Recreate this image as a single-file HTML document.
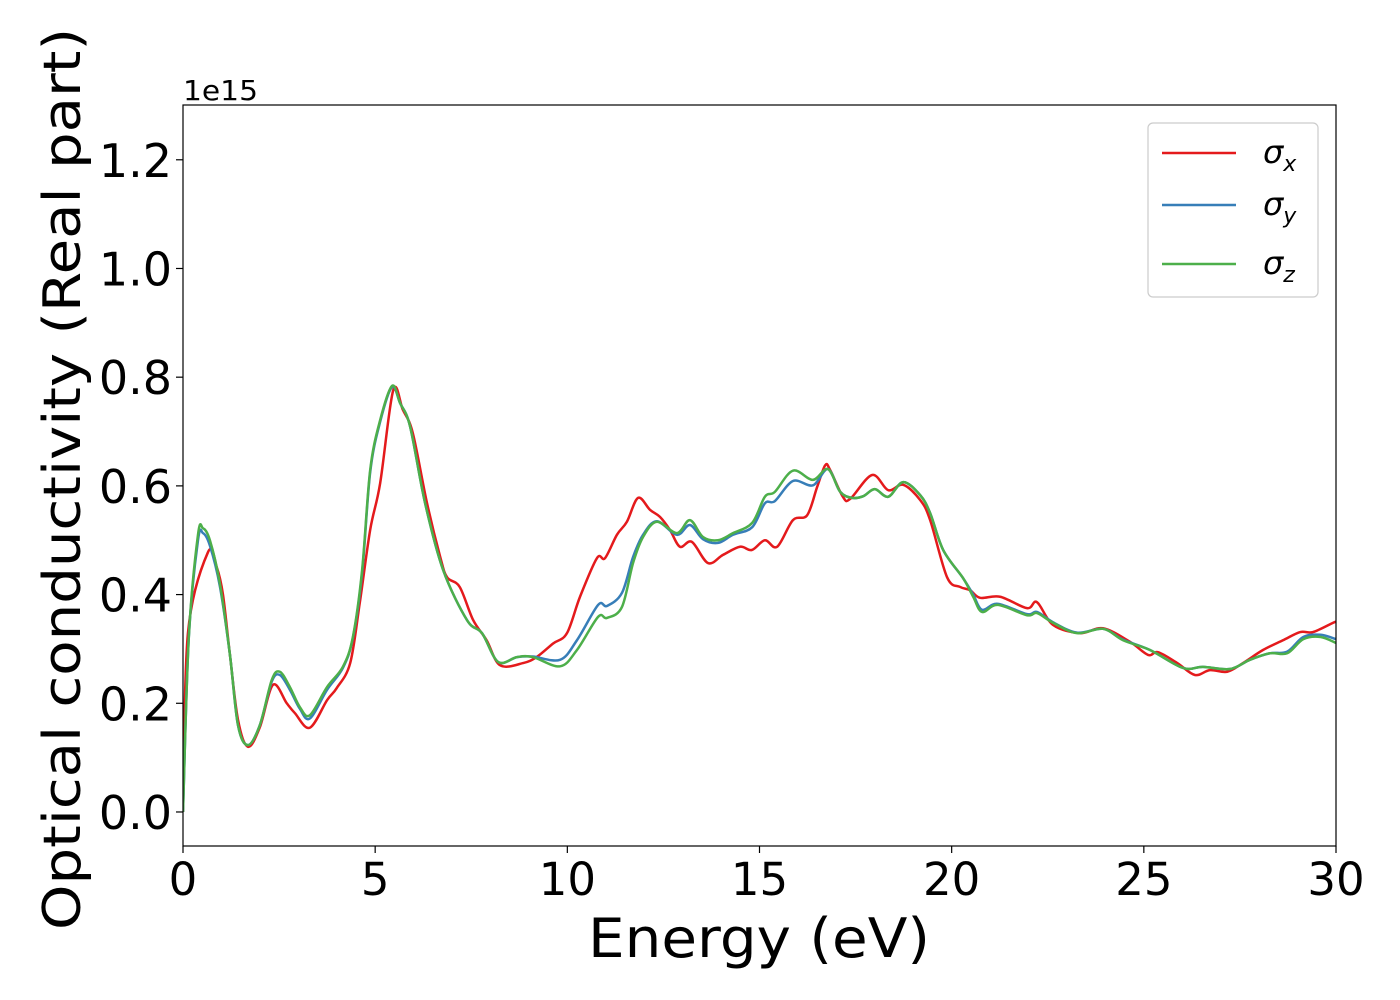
<!DOCTYPE html>
<html><head><meta charset="utf-8"><style>
html,body{margin:0;padding:0;background:#fff;}
svg{display:block;font-family:"DejaVu Sans","Liberation Sans",sans-serif;}
</style></head><body>
<svg id="chart" width="1400" height="1000" viewBox="0 0 1400 1000" xmlns="http://www.w3.org/2000/svg">
<rect x="0" y="0" width="1400" height="1000" fill="#fff"/>
<g id="plot"></g>
<g id="axes"></g>
<text x="183" y="100" font-size="28" textLength="75" lengthAdjust="spacingAndGlyphs">1e15</text>
<text x="759" y="957" font-size="54" text-anchor="middle" textLength="342" lengthAdjust="spacingAndGlyphs">Energy (eV)</text>
<text transform="translate(80,479) rotate(-90)" font-size="52" text-anchor="middle" textLength="902" lengthAdjust="spacingAndGlyphs">Optical conductivity (Real part)</text>
<g>
<rect x="1148" y="123" width="170" height="174" rx="5" fill="#fff" stroke="#ccc" stroke-width="1.2"/>
<line x1="1162" y1="153" x2="1236" y2="153" stroke="#e41a1c" stroke-width="2.5"/>
<text x="1263" y="163" font-size="32" font-style="italic">σ<tspan font-size="22" dy="8">x</tspan></text>
<line x1="1162" y1="205" x2="1236" y2="205" stroke="#377eb8" stroke-width="2.5"/>
<text x="1263" y="215" font-size="32" font-style="italic">σ<tspan font-size="22" dy="8">y</tspan></text>
<line x1="1162" y1="264" x2="1236" y2="264" stroke="#4daf4a" stroke-width="2.5"/>
<text x="1263" y="274" font-size="32" font-style="italic">σ<tspan font-size="22" dy="8">z</tspan></text>
</g>
</svg>
<script>
const xTicks=[0,5,10,15,20,25,30];
const yTicks=[0.0,0.2,0.4,0.6,0.8,1.0,1.2];
const xTickLabels=["0","5","10","15","20","25","30"];
const yTickLabels=["0.0","0.2","0.4","0.6","0.8","1.0","1.2"];
const eX=[0,0.13,0.65,0.88,1.04,1.22,1.43,1.69,2.0,2.34,2.7,2.91,3.3,3.75,4.0,4.35,4.6,4.87,5.13,5.47,5.72,5.98,6.35,6.69,6.87,7.2,7.55,7.9,8.25,8.85,9.2,9.63,9.99,10.33,10.77,10.98,11.29,11.55,11.84,12.15,12.41,12.67,12.93,13.24,13.66,14.05,14.49,14.8,15.14,15.46,15.87,16.24,16.5,16.71,16.84,17.17,17.36,17.93,18.35,18.74,19.18,19.44,19.88,20.22,20.48,20.74,21.26,21.96,22.22,22.64,23.34,23.94,24.64,25.11,25.37,25.87,26.33,26.72,27.17,27.58,28.1,28.62,29.07,29.4,29.92,30];
const sigmaX=[0,0.33,0.478,0.45,0.40,0.29,0.17,0.12,0.156,0.234,0.2,0.182,0.155,0.206,0.228,0.274,0.385,0.519,0.605,0.776,0.74,0.697,0.568,0.47,0.432,0.414,0.353,0.316,0.27,0.274,0.285,0.31,0.329,0.396,0.467,0.467,0.51,0.534,0.578,0.556,0.543,0.519,0.488,0.497,0.458,0.473,0.488,0.482,0.5,0.488,0.537,0.546,0.598,0.638,0.629,0.58,0.576,0.62,0.592,0.602,0.574,0.537,0.432,0.414,0.408,0.394,0.396,0.375,0.386,0.344,0.329,0.338,0.313,0.289,0.294,0.274,0.252,0.261,0.258,0.274,0.298,0.316,0.331,0.331,0.348,0.35];
const eYZ=[0,0.15,0.39,0.52,0.7,0.96,1.22,1.43,1.69,2.0,2.31,2.52,2.78,3.04,3.3,3.75,4.16,4.42,4.66,4.87,5.13,5.44,5.65,5.91,6.3,6.77,7.39,7.78,8.2,8.69,9.1,9.81,10.25,10.8,11.03,11.42,11.71,11.97,12.33,12.85,13.19,13.53,13.92,14.31,14.81,15.14,15.4,15.87,16.39,16.78,17.1,17.41,17.7,18.0,18.35,18.74,19.18,19.44,19.78,20.3,20.56,20.79,21.2,21.96,22.22,22.64,23.26,23.94,24.46,25.16,26.02,26.54,27.24,27.76,28.28,28.73,29.15,29.6,30];
const sigmaY=[0,0.32,0.5,0.513,0.49,0.415,0.29,0.16,0.123,0.16,0.24,0.252,0.225,0.19,0.172,0.225,0.265,0.32,0.44,0.625,0.718,0.782,0.752,0.709,0.568,0.445,0.353,0.329,0.276,0.285,0.286,0.28,0.316,0.381,0.379,0.403,0.469,0.51,0.535,0.51,0.528,0.502,0.495,0.51,0.524,0.568,0.572,0.609,0.601,0.631,0.589,0.578,0.581,0.594,0.58,0.607,0.583,0.55,0.482,0.43,0.4,0.372,0.383,0.364,0.368,0.349,0.33,0.337,0.317,0.298,0.265,0.267,0.263,0.28,0.292,0.295,0.322,0.326,0.318];
const sigmaZ=[0,0.32,0.51,0.522,0.5,0.42,0.29,0.16,0.123,0.16,0.243,0.258,0.23,0.193,0.178,0.23,0.267,0.322,0.445,0.629,0.721,0.784,0.752,0.709,0.568,0.445,0.353,0.329,0.276,0.285,0.285,0.268,0.298,0.359,0.357,0.377,0.458,0.506,0.534,0.513,0.537,0.506,0.5,0.513,0.532,0.58,0.589,0.628,0.611,0.631,0.589,0.578,0.581,0.594,0.58,0.607,0.583,0.55,0.482,0.43,0.396,0.368,0.381,0.362,0.366,0.348,0.329,0.337,0.316,0.298,0.265,0.267,0.263,0.28,0.292,0.292,0.318,0.322,0.311];

const L=183,R=1336,T=105,B=846;
const xMin=0,xMax=30,yMin=-0.0626,yMax=1.3008;
const sx=v=>L+(v-xMin)/(xMax-xMin)*(R-L);
const sy=v=>B-(v-yMin)/(yMax-yMin)*(B-T);
const NS="http://www.w3.org/2000/svg";
function mk(tag,attrs,parent){const e=document.createElementNS(NS,tag);for(const k in attrs)e.setAttribute(k,attrs[k]);parent.appendChild(e);return e;}
function pathFor(xs,ys){
  const p=xs.map((x,i)=>[sx(x),sy(ys[i])]);
  let d="M"+p[0][0].toFixed(2)+","+p[0][1].toFixed(2);
  for(let i=0;i<p.length-1;i++){
    const p0=p[Math.max(0,i-1)],p1=p[i],p2=p[i+1],p3=p[Math.min(p.length-1,i+2)];
    const c1x=p1[0]+(p2[0]-p0[0])/6,c1y=p1[1]+(p2[1]-p0[1])/6;
    const c2x=p2[0]-(p3[0]-p1[0])/6,c2y=p2[1]-(p3[1]-p1[1])/6;
    d+="C"+c1x.toFixed(2)+","+c1y.toFixed(2)+" "+c2x.toFixed(2)+","+c2y.toFixed(2)+" "+p2[0].toFixed(2)+","+p2[1].toFixed(2);
  }
  return d;
}
const plot=document.getElementById('plot');
const defs=mk('defs',{},plot);
const cp=mk('clipPath',{id:'clip'},defs);
mk('rect',{x:L,y:T,width:R-L,height:B-T},cp);
const g=mk('g',{'clip-path':'url(#clip)'},plot);
const series=[[eX,sigmaX,'#e41a1c','sigma-x-line'],[eYZ,sigmaY,'#377eb8','sigma-y-line'],[eYZ,sigmaZ,'#4daf4a','sigma-z-line']];
series.forEach(s=>{
  const p=mk('path',{d:pathFor(s[0],s[1]),fill:'none',stroke:s[2],'stroke-width':2.5,'stroke-linejoin':'round'},g);
  
  
});
const axes=document.getElementById('axes');
const frame=mk('rect',{x:L,y:T,width:R-L,height:B-T,fill:'none',stroke:'#000','stroke-width':1.2},axes);


xTicks.forEach((v,i)=>{
  const x=sx(v);
  mk('line',{x1:x,y1:B,x2:x,y2:B+7,stroke:'#000','stroke-width':1.2},axes);
  const t=mk('text',{x:x,y:895,'font-size':45,'text-anchor':'middle'},axes);
  t.textContent=xTickLabels[i];
  
  
});
yTicks.forEach((v,i)=>{
  const y=sy(v);
  mk('line',{x1:L-7,y1:y,x2:L,y2:y,stroke:'#000','stroke-width':1.2},axes);
  const t=mk('text',{x:172,y:y+17,'font-size':46,'text-anchor':'end'},axes);
  t.textContent=yTickLabels[i];
  
  
});
</script>
</body></html>
